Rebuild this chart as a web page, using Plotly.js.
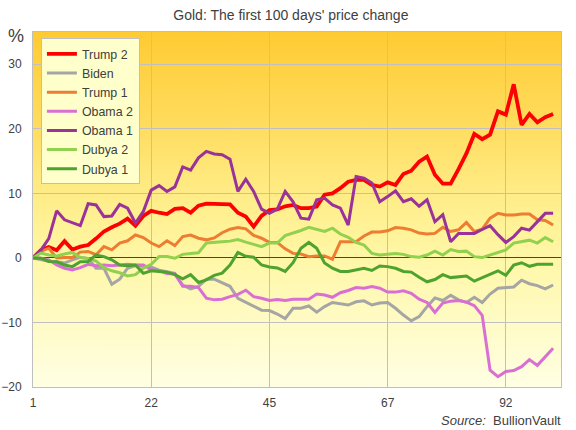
<!DOCTYPE html>
<html>
<head>
<meta charset="utf-8">
<script src="https://cdn.plot.ly/plotly-3.0.1.min.js"></script>
<style>
  html, body { margin: 0; padding: 0; background: #fff; }
  #chart { width: 576px; height: 430px; }
</style>
</head>
<body>
<div id="chart"></div>
<script>
// trading-day index positions of the labelled ticks, and their calendar-day labels
const tickIdx = [0, 15, 30, 45, 60];
const tickLabels = ['1', '22', '45', '67', '92'];
const yTicks = [-20, -10, 0, 10, 20, 30];

const seriesNames = ['Trump 2', 'Biden', 'Trump 1', 'Obama 2', 'Obama 1', 'Dubya 2', 'Dubya 1'];

const trump2 = [
  0, 1.2, 1.7, 1.2, 2.6, 1.3, 1.75, 2.0, 3.0, 4.1,
  4.75, 5.3, 6.1, 5.0, 6.5, 7.3, 7.0, 6.8, 7.6, 7.7,
  7.0, 8.1, 8.4, 8.4, 8.4, 8.3, 7.0, 6.4, 4.85, 6.5,
  7.4, 7.5, 8.0, 8.2, 7.7, 7.7, 7.95, 9.8, 10.0, 10.8,
  11.8, 12.1, 12.1, 11.3, 11.05, 11.7, 11.3, 13.0, 13.5, 14.9,
  15.7, 12.9, 11.5, 11.5, 13.75, 16.2, 19.2, 18.4, 19.1, 22.7,
  22.2, 26.9, 20.6, 22.3, 21.0, 21.8, 22.3
];
const biden = [
  0, -0.3, -0.5, -0.6, -0.8, -0.3, 0.1, -0.1, -1.6, -1.6,
  -4.1, -3.3, -1.6, -1.2, -1.3, -1.4, -1.9, -2.1, -2.4, -4.2,
  -4.8, -4.4, -3.3, -3.3, -3.8, -4.4, -6.25, -6.85, -7.4, -8.1,
  -8.15, -8.7, -9.4, -7.8, -7.8, -7.45, -8.4, -7.55, -6.9, -7.1,
  -7.3, -6.8, -6.65, -7.3, -7.0, -6.9, -7.8, -8.85, -9.75, -9.1,
  -7.55, -6.2, -6.6, -5.8, -6.5, -6.9, -6.1, -6.9, -5.6, -4.7,
  -4.65, -4.5, -3.45, -4.0, -4.3, -4.8, -4.2
];
const trump1 = [
  0, 1.0, 1.5, 0, 0.05, 0.05, 0.9, 1.0, 0.5, 1.75,
  1.25, 2.3, 2.65, 3.55, 3.15, 2.3, 1.75, 2.65, 1.9, 3.3,
  3.55, 3.05, 2.8, 3.1, 3.9, 4.45, 4.7, 4.5, 3.5, 3.05,
  2.4, 2.4, 1.4, 0.7, 0.6, 0.2, 0.3, 0.3, -0.2, 2.5,
  2.5, 2.5, 3.4, 4.0, 4.0, 4.2, 4.7, 4.6, 4.35, 3.85,
  3.7, 3.8, 4.75, 4.1, 4.35, 5.5, 4.1, 4.45, 6.15, 6.9,
  6.65, 6.65, 6.8, 6.8, 5.9, 5.8, 5.1
];
const obama2 = [
  0, -0.05, -0.3, -1.1, -1.6, -1.85, -1.5, -1.0, -1.2, -1.1,
  -1.2, -1.1, -1.0, -1.1, -1.1, -1.85, -2.0, -2.4, -2.5, -4.4,
  -4.4, -4.6, -6.25, -6.5, -6.4, -6.0, -5.65, -5.0, -6.0, -6.25,
  -6.6, -6.45, -6.6, -6.4, -6.4, -6.4, -5.6, -5.75, -6.1, -5.4,
  -5.05, -4.6, -4.7, -4.45, -4.7, -5.3, -5.3, -5.1, -5.5, -6.4,
  -6.9, -8.45, -7.0, -6.7, -6.6, -6.85, -7.4, -8.9, -17.4, -18.4,
  -17.6, -17.45, -16.85, -15.75, -16.65, -15.3, -14.0
];
const obama1 = [
  0, 1.2, 3.0, 7.3, 5.9, 5.4, 5.0, 8.4, 8.2, 6.4,
  6.5, 8.3, 7.7, 5.4, 7.2, 10.5, 11.2, 10.3, 11.0, 14.1,
  13.6, 15.5, 16.5, 16.1, 16.0, 15.3, 10.3, 12.2, 10.3, 7.55,
  6.9, 7.55, 10.3, 8.7, 6.15, 6.0, 9.0, 9.25, 8.2, 7.7,
  5.1, 12.6, 12.35, 11.6, 8.7, 9.5, 10.4, 8.7, 9.15, 8.0,
  9.0, 5.6, 6.7, 2.5, 3.8, 3.8, 3.8, 4.4, 5.0, 3.6,
  2.4, 3.3, 4.6, 4.3, 5.6, 6.9, 6.9
];
const dubya2 = [
  0, 0.75, 0.45, 0.3, 0.6, 0.85, 0.05, -0.1, -0.5, -1.5,
  -2.0, -2.3, -2.8, -2.6, -1.6, -1.0, 0.2, 0.2, -0.05, 0.55,
  0.7, 0.8, 2.3, 2.35, 2.5, 2.6, 2.85, 2.45, 2.1, 1.75,
  2.3, 2.3, 3.45, 3.8, 4.25, 4.75, 4.45, 4.1, 4.6, 3.7,
  3.2, 2.4, 2.0, 0.7, 0.45, 0.55, 0.7, 0.55, 0.2, 0.1,
  0.45, 1.05, 0.45, 1.3, 1.0, 1.05, 0.2, 0.05, 0.45, 0.75,
  1.25, 2.3, 2.5, 2.75, 2.3, 3.15, 2.5
];
const dubya1 = [
  0, -0.05, -0.55, -0.6, -1.1, -1.35, -0.6, -0.55, 0.45, 0.2,
  -0.3, -1.1, -1.2, -1.1, -2.4, -2.0, -2.1, -2.2, -2.6, -3.25,
  -2.6, -3.8, -3.4, -2.7, -2.35, -1.1, 0.85, 0.25, 0.1, -1.1,
  -1.4, -1.55, -2.1, -0.75, 1.5, 2.4, 1.5, -0.8, -1.6, -2.1,
  -2.1, -1.85, -1.6, -1.95, -1.25, -1.35, -1.6, -2.1, -2.2, -3.0,
  -3.7, -3.35, -2.6, -3.05, -2.95, -2.8, -3.6, -3.1, -2.5, -2.0,
  -2.7, -1.1, -0.75, -1.3, -1.0, -1.0, -1.0
];

const seriesValues = [trump2, biden, trump1, obama2, obama1, dubya2, dubya1];
const seriesColors = ['#FF0000', '#A5A5A5', '#ED7D31', '#D96FD3', '#993399', '#92D050', '#4EA22E'];
const seriesWidths = [3.8, 3, 3, 3, 3, 3, 3];

// golden vertical gradient for the plot area
function gradientImage() {
  const c = document.createElement('canvas');
  c.width = 4;
  c.height = 256;
  const ctx = c.getContext('2d');
  const g = ctx.createLinearGradient(0, 0, 0, 256);
  g.addColorStop(0, '#FFCB33');
  g.addColorStop(0.27, '#FFDD60');
  g.addColorStop(0.45, '#FFEC86');
  g.addColorStop(0.63, '#FFF7A6');
  g.addColorStop(1, '#FFFFE4');
  ctx.fillStyle = g;
  ctx.fillRect(0, 0, 4, 256);
  return c.toDataURL('image/png');
}

const traces = seriesNames.map((name, k) => ({
  x: seriesValues[k].map((_, i) => i),
  y: seriesValues[k],
  type: 'scatter',
  mode: 'lines',
  name: name,
  line: { color: seriesColors[k], width: seriesWidths[k] }
}));

const font = 'Liberation Sans, Arial, sans-serif';

const layout = {
  width: 576,
  height: 430,
  margin: { l: 33, r: 15, t: 32, b: 43 },
  paper_bgcolor: '#FFFFFF',
  plot_bgcolor: 'rgba(0,0,0,0)',
  font: { family: font, size: 12, color: '#404040' },
  title: {
    text: "Gold: The first 100 days' price change",
    font: { family: font, size: 14, color: '#404040' },
    x: 0.505,
    xref: 'container',
    xanchor: 'center',
    y: 0.965,
    yref: 'container',
    yanchor: 'middle'
  },
  showlegend: true,
  legend: {
    x: 0.015,
    y: 0.982,
    xanchor: 'left',
    yanchor: 'top',
    bgcolor: '#FFFFCC',
    bordercolor: '#BFBFBF',
    borderwidth: 1,
    font: { family: font, size: 12.4, color: '#404040' },
    tracegroupgap: 0
  },
  xaxis: {
    range: [0, 67],
    tickvals: tickIdx,
    ticktext: tickLabels,
    showgrid: true,
    gridcolor: '#C0C0C0',
    gridwidth: 1,
    zeroline: false,
    showline: true,
    linecolor: '#BFBFBF',
    linewidth: 1,
    mirror: true,
    ticks: '',
    ticklabelstandoff: 5,
    tickfont: { family: font, size: 12, color: '#404040' }
  },
  yaxis: {
    range: [-20, 35],
    tickvals: yTicks,
    showgrid: true,
    gridcolor: '#C0C0C0',
    gridwidth: 1,
    zeroline: true,
    zerolinecolor: '#1F4E79',
    zerolinewidth: 1,
    showline: true,
    linecolor: '#BFBFBF',
    linewidth: 1,
    mirror: true,
    ticks: '',
    ticklabelstandoff: 8,
    tickfont: { family: font, size: 12, color: '#404040' }
  },
  images: [{
    source: gradientImage(),
    xref: 'paper',
    yref: 'paper',
    x: 0,
    y: 1,
    sizex: 1,
    sizey: 1,
    sizing: 'stretch',
    xanchor: 'left',
    yanchor: 'top',
    layer: 'below'
  }],
  annotations: [
    {
      text: '%',
      xref: 'paper',
      yref: 'paper',
      x: -0.032,
      y: 0.99,
      xanchor: 'center',
      yanchor: 'middle',
      showarrow: false,
      font: { family: font, size: 18, color: '#404040' }
    },
    {
      text: '<i>Source:</i>  BullionVault',
      xref: 'paper',
      yref: 'paper',
      x: 1.004,
      y: -0.093,
      xanchor: 'right',
      yanchor: 'middle',
      showarrow: false,
      font: { family: font, size: 13, color: '#404040' }
    }
  ]
};

Plotly.newPlot('chart', traces, layout, { displayModeBar: false, staticPlot: true });
</script>
</body>
</html>
